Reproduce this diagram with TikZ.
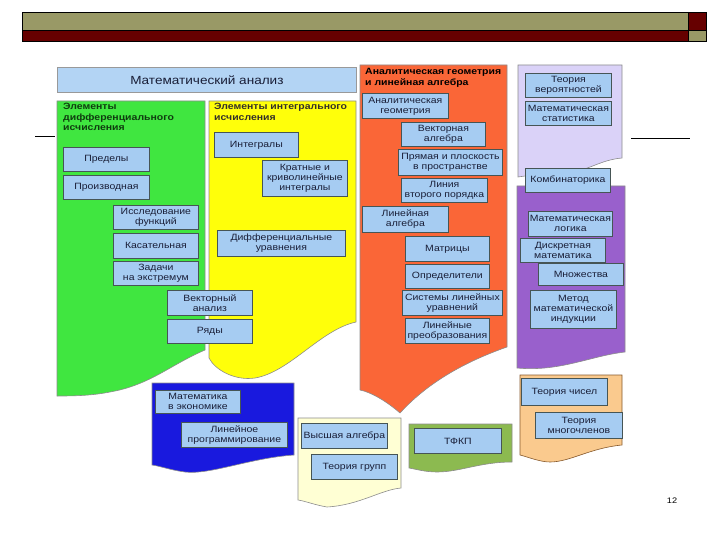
\documentclass[tikz,border=0pt]{standalone}
\usepackage{fontspec}
\setmainfont{Liberation Sans}[FakeStretch=1.15]
\definecolor{boxblue}{RGB}{166,204,242}
\definecolor{boxline}{RGB}{70,85,85}
\definecolor{boxtext}{RGB}{25,30,55}
\definecolor{pgreen}{RGB}{64,230,64}
\definecolor{pyellow}{RGB}{255,255,10}
\definecolor{porange}{RGB}{250,102,55}
\definecolor{plav}{RGB}{218,210,248}
\definecolor{ppurple}{RGB}{153,96,204}
\definecolor{pblue}{RGB}{25,25,222}
\definecolor{pcream}{RGB}{255,255,212}
\definecolor{polive}{RGB}{140,186,80}
\definecolor{ppeach}{RGB}{250,202,142}
\definecolor{hdrolive}{RGB}{153,153,102}
\definecolor{hdrred}{RGB}{102,0,0}
\definecolor{gtitle}{RGB}{15,60,15}
\newcommand\kbox[6]{\node[box, minimum width={#4pt-#2pt}, minimum height={#5pt-#3pt}] (#1) at (#2,#3) {#6};}
\begin{document}
\begin{tikzpicture}[x=1pt,y=-1pt,
  box/.style={draw=boxline, fill=boxblue, line width=0.8pt, inner sep=0.5pt, align=center,
    font=\fontsize{9.1}{10}\selectfont, text=boxtext, anchor=north west},
  panel/.style={draw=black!45, line width=0.6pt},
  ptitle/.style={anchor=north west, align=left, inner sep=0pt, font=\bfseries\fontsize{9.1}{10.6}\selectfont}]
\useasboundingbox (0,0) rectangle (720,540);
% header
\fill[hdrolive] (22,12) rectangle (688,30);
\fill[hdrred] (22,30) rectangle (688,41);
\fill[hdrred] (688,12) rectangle (706,30);
\fill[hdrolive] (688,30) rectangle (706,41);
\draw[black, line width=0.6pt] (22,12) rectangle (706,41) (22,30) -- (706,30) (688,12) -- (688,41);
% side lines
\coordinate (l1) at (35,136); \coordinate (l2) at (55,136);
\coordinate (r1) at (631,138); \coordinate (r2) at (690,138);
\draw[line width=0.7pt] (l1) -- (l2);
\draw[line width=0.7pt] (r1) -- (r2);
% panels
\draw[panel, fill=pgreen] (57,101) -- (205,101) -- (205,350) .. controls (170,365) and (150,385) .. (110,392) .. controls (90,396) and (70,396) .. (57,396) -- cycle;
\draw[panel, fill=pyellow] (209,101) -- (356,101) -- (356,322) .. controls (320,330) and (290,372) .. (255,378) .. controls (235,381) and (215,370) .. (209,358) -- cycle;
\draw[panel, fill=porange] (360,65) -- (507,65) -- (507,347) .. controls (470,360) and (430,380) .. (400,413) .. controls (385,400) and (370,392) .. (360,390) -- cycle;
\draw[panel, fill=plav] (518,65) -- (622,65) -- (622,158) .. controls (600,160) and (590,170) .. (570,172) .. controls (550,174) and (530,175) .. (518,177) -- cycle;
\draw[panel, fill=ppurple] (517,186) -- (625,186) -- (625,352) .. controls (590,356) and (560,372) .. (517,368) -- cycle;
\draw[panel, fill=pblue] (152,383) -- (294,383) -- (294,455) .. controls (250,458) and (210,475) .. (185,472) .. controls (170,470) and (160,466) .. (152,465) -- cycle;
\draw[panel, fill=pcream] (298,418) -- (401,418) -- (401,488) .. controls (380,490) and (360,505) .. (327,507) .. controls (315,505) and (305,501) .. (298,500) -- cycle;
\draw[panel, fill=polive] (409,424) -- (512,424) -- (512,462) .. controls (480,462) and (460,472) .. (437,472) .. controls (425,472) and (415,469) .. (409,468) -- cycle;
\draw[panel, draw=brown!70!black, fill=ppeach] (520,375) -- (622,375) -- (622,445) .. controls (590,448) and (570,462) .. (550,462) .. controls (540,462) and (528,457) .. (520,455) -- cycle;
% titles
\node[box, draw=black!40, fill=boxblue!85!white, font=\fontsize{11.8}{13}\selectfont, minimum width=299pt, minimum height=25pt] (ma) at (57,67) {Математический анализ};
\node[ptitle, text=gtitle] (tg) at (63,103) {Элементы\\дифференциального\\исчисления};
\node[ptitle, text=black!85!olive] (ty) at (214,103) {Элементы интегрального\\исчисления};
\node[ptitle, text=black] (to) at (365,68) {Аналитическая геометрия\\и линейная алгебра};
% green boxes
\kbox{pr}{63}{147}{149}{171}{Пределы}
\kbox{pz}{63}{175}{149}{199}{Производная}
\kbox{isf}{113}{205}{198}{229}{Исследование\\функций}
\kbox{kas}{113}{233}{198}{258}{Касательная}
\kbox{zex}{113}{261}{198}{285}{Задачи\\на экстремум}
\kbox{van}{167}{290}{252}{315}{Векторный\\анализ}
\kbox{ryad}{167}{319}{252}{343}{Ряды}
% yellow boxes
\kbox{int}{214}{132}{298}{157}{Интегралы}
\kbox{kri}{262}{160}{347}{196}{Кратные и\\криволинейные\\интегралы}
\kbox{du}{217}{230}{345}{256}{Дифференциальные\\уравнения}
% orange boxes
\kbox{ag}{362}{93}{448}{118}{Аналитическая\\геометрия}
\kbox{va}{401}{122}{485}{146}{Векторная\\алгебра}
\kbox{pp}{398}{149}{502}{175}{Прямая и плоскость\\в пространстве}
\kbox{lvp}{401}{178}{487}{202}{Линия\\второго порядка}
\kbox{la}{362}{206}{448}{232}{Линейная\\алгебра}
\kbox{mat}{405}{236}{489}{261}{Матрицы}
\kbox{opr}{405}{264}{489}{288}{Определители}
\kbox{slu}{402}{290}{502}{315}{Системы линейных\\уравнений}
\kbox{lp}{405}{318}{489}{343}{Линейные\\преобразования}
% lavender / purple boxes
\kbox{tv}{525}{73}{611}{97}{Теория\\вероятностей}
\kbox{ms}{525}{101}{611}{125}{Математическая\\статистика}
\kbox{komb}{525}{168}{610}{192}{Комбинаторика}
\kbox{ml}{528}{211}{612}{236}{Математическая\\логика}
\kbox{dm}{520}{238}{605}{262}{Дискретная\\математика}
\kbox{mn}{538}{263}{623}{285}{Множества}
\kbox{mmi}{530}{290}{616}{328}{Метод\\математической\\индукции}
% bottom boxes
\kbox{me}{155}{390}{240}{413}{Математика\\в экономике}
\kbox{lpr}{181}{422}{287}{447}{Линейное\\программирование}
\kbox{va2}{301}{423}{387}{448}{Высшая алгебра}
\kbox{tg2}{311}{454}{397}{479}{Теория групп}
\kbox{tfkp}{414}{428}{501}{453}{ТФКП}
\kbox{tch}{521}{378}{607}{405}{Теория чисел}
\kbox{tmn}{535}{412}{622}{438}{Теория\\многочленов}
% page number
\node[font=\fontsize{8}{9}\selectfont] (pg) at (672,501) {12};
\end{tikzpicture}
\end{document}
